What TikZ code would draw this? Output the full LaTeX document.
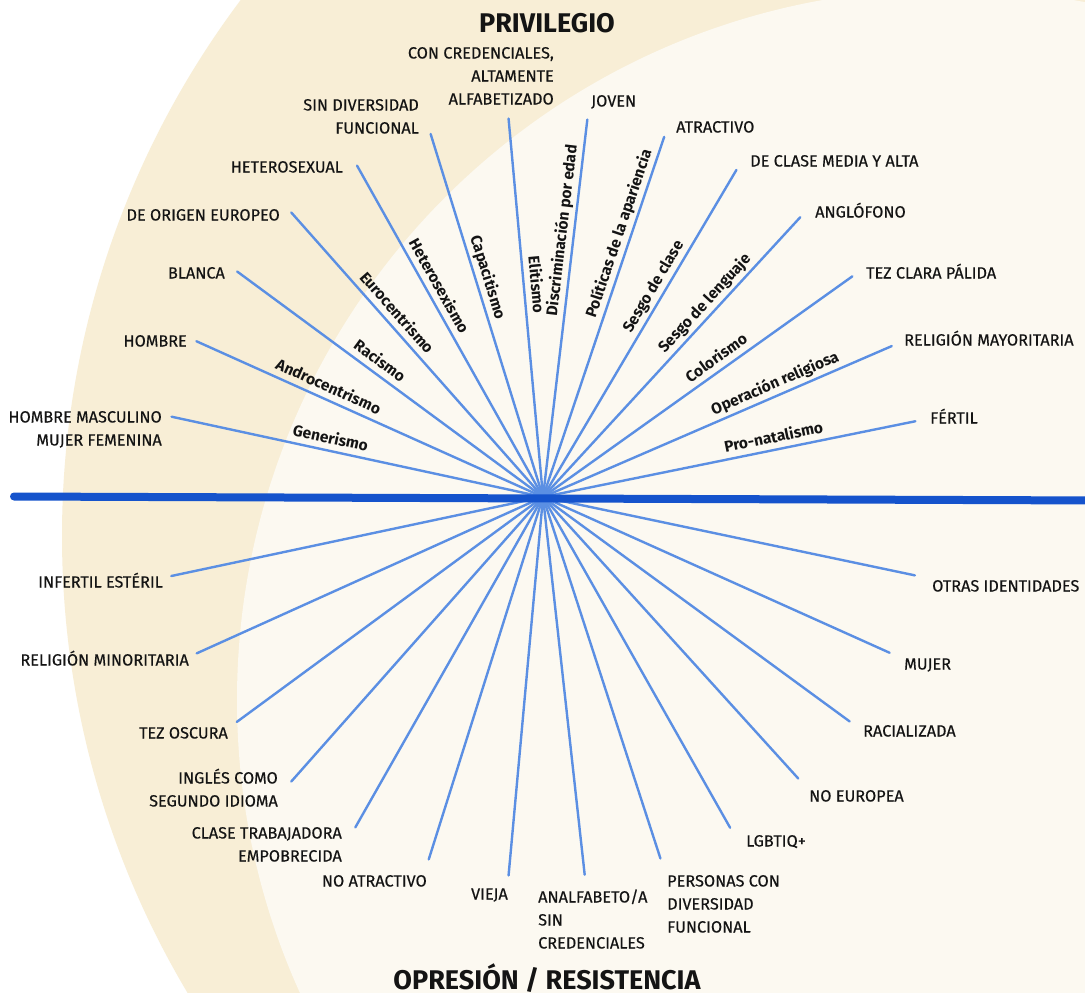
\documentclass[tikz,border=0pt]{standalone}
\usepackage{fontspec}
\setmainfont{Fira Sans}
\newfontfamily\labfont{Fira Sans}[FakeBold=0.35]
\usetikzlibrary{calc}
\definecolor{beigeA}{HTML}{F8EED6}
\definecolor{creamB}{HTML}{FCF9F1}
\definecolor{axisblue}{HTML}{1553CC}
\definecolor{rayblue}{HTML}{5B8FE3}
\definecolor{ink}{HTML}{141414}
\begin{document}
\begin{tikzpicture}[x=1pt,y=-1pt,
  ray/.style={draw=rayblue, line width=2.4pt, line cap=round},
  axis/.style={draw=axisblue, line width=8pt, line cap=round},
  lab/.style={font=\labfont\fontsize{16.25}{23}\selectfont, text=ink, inner sep=0pt},
  labL/.style={lab, anchor=base east, align=right},
  labR/.style={lab, anchor=base west, align=left},
  isms/.style={sloped, anchor=south, text depth=0pt, inner xsep=0pt, inner ysep=6pt,
    font=\bfseries\fontsize{15.5}{18}\selectfont, text=ink},
  titlestyle/.style={font=\bfseries\fontsize{27}{30}\selectfont, text=ink, inner sep=0pt, anchor=base}]
\useasboundingbox (0,0) rectangle (1085,993);
\begin{scope}
\clip (0,0) rectangle (1085,993);
\fill[white] (0,0) rectangle (1085,993);
\fill[beigeA] (955,536) circle[radius=893pt];
\fill[creamB] (948,700) circle[radius=711pt];
\end{scope}

\coordinate (c) at (543,497);
% upper ray ends
\coordinate (u1) at ($(c)+(-11.5:380)$);
\coordinate (u2) at ($(c)+(-23.4:380)$);
\coordinate (u3) at ($(c)+(-35.5:380)$);
\coordinate (u4) at ($(c)+(-47.4:380)$);
\coordinate (u5) at ($(c)+(-59.4:380)$);
\coordinate (u6) at ($(c)+(-71.4:380)$);
\coordinate (u7) at ($(c)+(-83.3:380)$);
\coordinate (u8) at ($(c)+(-95.2:380)$);
\coordinate (u9) at ($(c)+(-107.2:380)$);
\coordinate (u10) at ($(c)+(-119.3:380)$);
\coordinate (u11) at ($(c)+(-131.5:380)$);
\coordinate (u12) at ($(c)+(-143.6:380)$);
\coordinate (u13) at ($(c)+(-155.8:380)$);
\coordinate (u14) at ($(c)+(-167.8:380)$);
% lower ray ends
\coordinate (d1) at ($(c)+(11.9:380)$);
\coordinate (d2) at ($(c)+(24.2:380)$);
\coordinate (d3) at ($(c)+(36.2:380)$);
\coordinate (d4) at ($(c)+(47.8:380)$);
\coordinate (d5) at ($(c)+(60.5:380)$);
\coordinate (d6) at ($(c)+(72:380)$);
\coordinate (d7) at ($(c)+(83.7:380)$);
\coordinate (d8) at ($(c)+(95.2:380)$);
\coordinate (d9) at ($(c)+(107.5:380)$);
\coordinate (d10) at ($(c)+(119.6:380)$);
\coordinate (d11) at ($(c)+(131.5:380)$);
\coordinate (d12) at ($(c)+(143.7:380)$);
\coordinate (d13) at ($(c)+(155.7:380)$);
\coordinate (d14) at ($(c)+(168:380)$);

% rays, upper right
\draw[ray] (c) -- (u1) node[isms,pos=0.626]{Pro-natalismo};
\draw[ray] (c) -- (u2) node[isms,pos=0.679]{Operación religiosa};
\draw[ray] (c) -- (u3) node[isms,pos=0.584]{Colorismo};
\draw[ray] (c) -- (u4) node[isms,pos=0.663]{Sesgo de lenguaje};
\draw[ray] (c) -- (u5) node[isms,pos=0.624]{Sesgo de clase};
\draw[ray] (c) -- (u6) node[isms,pos=0.721]{Políticas de la apariencia};
\draw[ray] (c) -- (u7) node[isms,pos=0.703]{Discriminación por edad};
% rays, upper left
\draw[ray] (u8) -- (c) node[isms,pos=0.442]{Elitismo};
\draw[ray] (u9) -- (c) node[isms,pos=0.405]{Capacitismo};
\draw[ray] (u10) -- (c) node[isms,pos=0.382]{Heterosexismo};
\draw[ray] (u11) -- (c) node[isms,pos=0.382]{Eurocentrismo};
\draw[ray] (u12) -- (c) node[isms,pos=0.442]{Racismo};
\draw[ray] (u13) -- (c) node[isms,pos=0.366]{Androcentrismo};
\draw[ray] (u14) -- (c) node[isms,pos=0.421]{Generismo};
% rays, lower
\foreach \i in {1,...,14} { \draw[ray] (c) -- (d\i); }

% axis
\coordinate (axL) at (14,496.5);
\coordinate (axR) at (1100,500.5);
\draw[axis] (axL) -- (axR);

% titles
\node[titlestyle] (tp) at (547,32) {PRIVILEGIO};
\node[titlestyle] (to) at (547,989) {OPRESIÓN / RESISTENCIA};

% upper labels (base = baseline of last line)
\node[labL] (l14) at (162,445.5) {HOMBRE MASCULINO\\MUJER FEMENINA};
\node[labL] (l13) at (187,346.5) {HOMBRE};
\node[labL] (l12) at (225,278.5) {BLANCA};
\node[labL] (l11) at (280,220.5) {DE ORIGEN EUROPEO};
\node[labL] (l10) at (343,172.5) {HETEROSEXUAL};
\node[labL] (l9) at (419,133.5) {SIN DIVERSIDAD\\FUNCIONAL};
\node[labL] (l8) at (554,104.5) {CON CREDENCIALES,\\ALTAMENTE\\ALFABETIZADO};
\node[labR] (l7) at (591,106.5) {JOVEN};
\node[labR] (l6) at (676,132.5) {ATRACTIVO};
\node[labR] (l5) at (750,166.5) {DE CLASE MEDIA Y ALTA};
\node[labR] (l4) at (815,217.5) {ANGLÓFONO};
\node[labR] (l3) at (866,278.5) {TEZ CLARA PÁLIDA};
\node[labR] (l2) at (904,345.5) {RELIGIÓN MAYORITARIA};
\node[labR] (l1) at (930,423.5) {FÉRTIL};
% lower labels
\node[labL] (m14) at (163,587.5) {INFERTIL ESTÉRIL};
\node[labL] (m13) at (189,665.5) {RELIGIÓN MINORITARIA};
\node[labL] (m12) at (228,738.5) {TEZ OSCURA};
\node[labL] (m11) at (278,806.5) {INGLÉS COMO\\SEGUNDO IDIOMA};
\node[labL] (m10) at (342,861.5) {CLASE TRABAJADORA\\EMPOBRECIDA};
\node[labL] (m9) at (427,886.5) {NO ATRACTIVO};
\node[labL] (m8) at (508,899.5) {VIEJA};
\node[labR] (m7) at (538,948.5) {ANALFABETO/A\\SIN\\CREDENCIALES};
\node[labR] (m6) at (667,932.5) {PERSONAS CON\\DIVERSIDAD\\FUNCIONAL};
\node[labR] (m5) at (746,846.5) {LGBTIQ+};
\node[labR] (m4) at (809,801.5) {NO EUROPEA};
\node[labR] (m3) at (863,736.5) {RACIALIZADA};
\node[labR] (m2) at (904,669.5) {MUJER};
\node[labR] (m1) at (932,591.5) {OTRAS IDENTIDADES};
\end{tikzpicture}
\end{document}
